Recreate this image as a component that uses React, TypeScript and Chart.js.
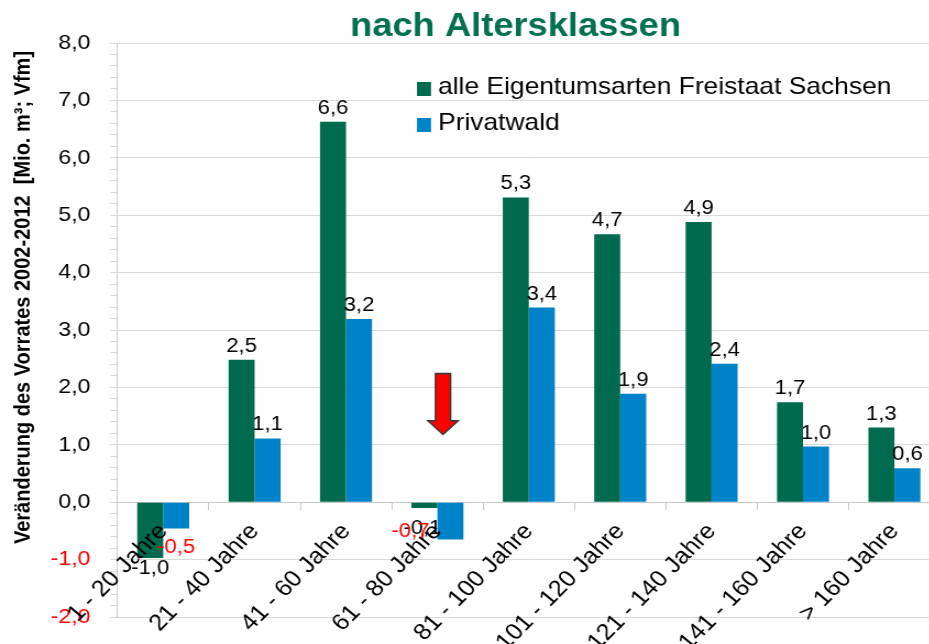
import React, { useEffect, useRef } from "react";
import { Chart, registerables } from "chart.js";

Chart.register(...registerables);

// ---------- data ----------
const categories = [
  "1 - 20 Jahre",
  "21 - 40 Jahre",
  "41 - 60 Jahre",
  "61 - 80 Jahre",
  "81 - 100 Jahre",
  "101 - 120 Jahre",
  "121 - 140 Jahre",
  "141 - 160 Jahre",
  "> 160 Jahre",
];
const alleEigentumsarten = [-0.97, 2.48, 6.63, -0.1, 5.31, 4.67, 4.88, 1.74, 1.3];
const privatwald = [-0.46, 1.11, 3.19, -0.65, 3.39, 1.89, 2.41, 0.97, 0.59];
const seriesNames = ["alle Eigentumsarten Freistaat Sachsen", "Privatwald"];
const yMin = -2;
const yMax = 8;
const yMinorStep = 0.2;
const chartTitle = "nach Altersklassen";
const yAxisTitle = "Veränderung des Vorrates 2002-2012  [Mio. m³; Vfm]";
// arrow annotation (category index, values)
const arrowCategory = 3;
const arrowTop = 2.24;
const arrowHeadStart = 1.42;
const arrowTip = 1.18;

// ---------- style ----------
const SX = 1.1; // horizontal stretch of the picture
const DISPLAY_W = 946;
const H = 644;
const W = Math.round(DISPLAY_W / SX);
const FONT = "'Liberation Sans', Arial, Helvetica, sans-serif";
const GREEN = "#006A4E";
const BLUE = "#0082C8";
const TITLE_GREEN = "#00704F";
const RED = "#FF0000";
const GRID = "#D9D9D9";
const AXIS = "#C8C8C8";

// display px -> internal px (x only)
const ix = (v: number) => v / SX;

// label nudges (display px) for overlapping negative labels
const LABEL_NUDGES: Record<string, { dx: number; dy: number }> = {
  "1-0": { dx: 0, dy: 7.5 },
  "0-3": { dx: -2, dy: 10 },
  "1-3": { dx: -40, dy: -19.5 },
};

const isMajor = (v: number) => Math.abs(v - Math.round(v)) < 1e-6;
const fmt = (v: number) => v.toFixed(1).replace(".", ",");

const overlayPlugin = {
  id: "overlay",
  afterDraw(chart: any) {
    const ctx = chart.ctx as CanvasRenderingContext2D;
    const xs = chart.scales.x;
    const ys = chart.scales.y;
    ctx.save();

    // Title
    ctx.fillStyle = TITLE_GREEN;
    ctx.font = `bold 33px ${FONT}`;
    ctx.textAlign = "center";
    ctx.textBaseline = "alphabetic";
    ctx.fillText(chartTitle, ix(515.5), 36);

    // Y axis title
    ctx.save();
    ctx.translate(ix(24), 297.5);
    ctx.rotate(-Math.PI / 2);
    ctx.fillStyle = "#000";
    ctx.font = `bold 20px ${FONT}`;
    ctx.textAlign = "center";
    ctx.textBaseline = "middle";
    ctx.fillText(yAxisTitle, 0, 0);
    ctx.restore();

    // Legend
    const legendColors = [GREEN, BLUE];
    const rowBase = [94, 130];
    seriesNames.forEach((name, i) => {
      ctx.fillStyle = legendColors[i];
      ctx.fillRect(ix(417), rowBase[i] - 12, ix(14), 14);
      ctx.fillStyle = "#000";
      ctx.font = `24px ${FONT}`;
      ctx.textAlign = "left";
      ctx.textBaseline = "alphabetic";
      ctx.fillText(name, ix(438), rowBase[i]);
    });

    // Data labels
    ctx.font = `20px ${FONT}`;
    ctx.textAlign = "center";
    chart.data.datasets.forEach((ds: any, di: number) => {
      const meta = chart.getDatasetMeta(di);
      meta.data.forEach((bar: any, i: number) => {
        const v = ds.data[i] as number;
        const text = fmt(v);
        const nudge = LABEL_NUDGES[`${di}-${i}`] || { dx: 0, dy: 0 };
        const x = bar.x + ix(nudge.dx);
        if (v >= 0) {
          ctx.fillStyle = "#000";
          ctx.textBaseline = "alphabetic";
          ctx.fillText(text, x, bar.y - 8 + nudge.dy);
        } else {
          ctx.fillStyle = di === 1 ? RED : "#000";
          ctx.textBaseline = "middle";
          ctx.fillText(text, x, bar.y + 11 + nudge.dy);
        }
      });
    });

    // Arrow annotation
    const cx = xs.getPixelForValue(arrowCategory) + ix(5.6);
    const yTop = ys.getPixelForValue(arrowTop);
    const yHead = ys.getPixelForValue(arrowHeadStart);
    const yTip = ys.getPixelForValue(arrowTip);
    const bw = ix(7.5);
    const hw = ix(15);
    ctx.beginPath();
    ctx.moveTo(cx - bw, yTop);
    ctx.lineTo(cx + bw, yTop);
    ctx.lineTo(cx + bw, yHead);
    ctx.lineTo(cx + hw, yHead);
    ctx.lineTo(cx, yTip);
    ctx.lineTo(cx - hw, yHead);
    ctx.lineTo(cx - bw, yHead);
    ctx.closePath();
    ctx.fillStyle = RED;
    ctx.fill();
    ctx.lineWidth = 1.6;
    ctx.strokeStyle = "#3A3A3A";
    ctx.stroke();

    ctx.restore();
  },
};

export default function App() {
  const ref = useRef<HTMLCanvasElement>(null);

  useEffect(() => {
    if (!ref.current) return;
    const chart = new Chart(ref.current, {
      type: "bar",
      data: {
        labels: categories,
        datasets: [
          {
            label: seriesNames[0],
            data: alleEigentumsarten,
            backgroundColor: GREEN,
            categoryPercentage: 0.569,
            barPercentage: 1,
          },
          {
            label: seriesNames[1],
            data: privatwald,
            backgroundColor: BLUE,
            categoryPercentage: 0.569,
            barPercentage: 1,
          },
        ],
      },
      options: {
        responsive: false,
        animation: false,
        devicePixelRatio: 1,
        events: [],
        layout: {
          padding: { left: 0, right: W - ix(940.1), top: 43, bottom: H - 617 },
        },
        plugins: {
          legend: { display: false },
          title: { display: false },
          tooltip: { enabled: false },
        },
        scales: {
          x: {
            position: { y: 0 } as any,
            grid: {
              display: true,
              drawOnChartArea: false,
              drawTicks: true,
              tickLength: 7,
              tickColor: AXIS,
              offset: true,
            },
            border: { display: true, color: AXIS, width: 1 },
            ticks: {
              z: 1,
              autoSkip: false,
              minRotation: 47.7,
              maxRotation: 47.7,
              color: "#000",
              padding: 9,
              font: { family: FONT, size: 23 },
            },
          },
          y: {
            min: yMin,
            max: yMax,
            afterFit: (s: any) => {
              s.width = ix(117.5);
            },
            grid: {
              drawTicks: true,
              tickLength: ix(7),
              color: (c: any) => (c.tick && isMajor(c.tick.value) ? GRID : "rgba(0,0,0,0)"),
              tickColor: GRID,
            },
            border: { display: true, color: AXIS, width: 1 },
            ticks: {
              stepSize: yMinorStep,
              autoSkip: false,
              maxTicksLimit: 100,
              padding: ix(20),
              color: (c: any) => (c.tick && c.tick.value < -1e-9 ? RED : "#000"),
              font: { family: FONT, size: 21, lineHeight: 0.3 },
              callback: (v: any) => (isMajor(Number(v)) ? fmt(Number(v)) : ""),
            },
          },
        },
      },
      plugins: [overlayPlugin],
    });
    return () => chart.destroy();
  }, []);

  return (
    <div
      style={{
        position: "fixed",
        left: 0,
        top: 0,
        width: 929,
        height: H,
        overflow: "hidden",
        background: "#fff",
      }}
    >
      <canvas
        ref={ref}
        width={W}
        height={H}
        style={{ width: `${DISPLAY_W}px`, height: `${H}px`, display: "block" }}
      />
    </div>
  );
}
